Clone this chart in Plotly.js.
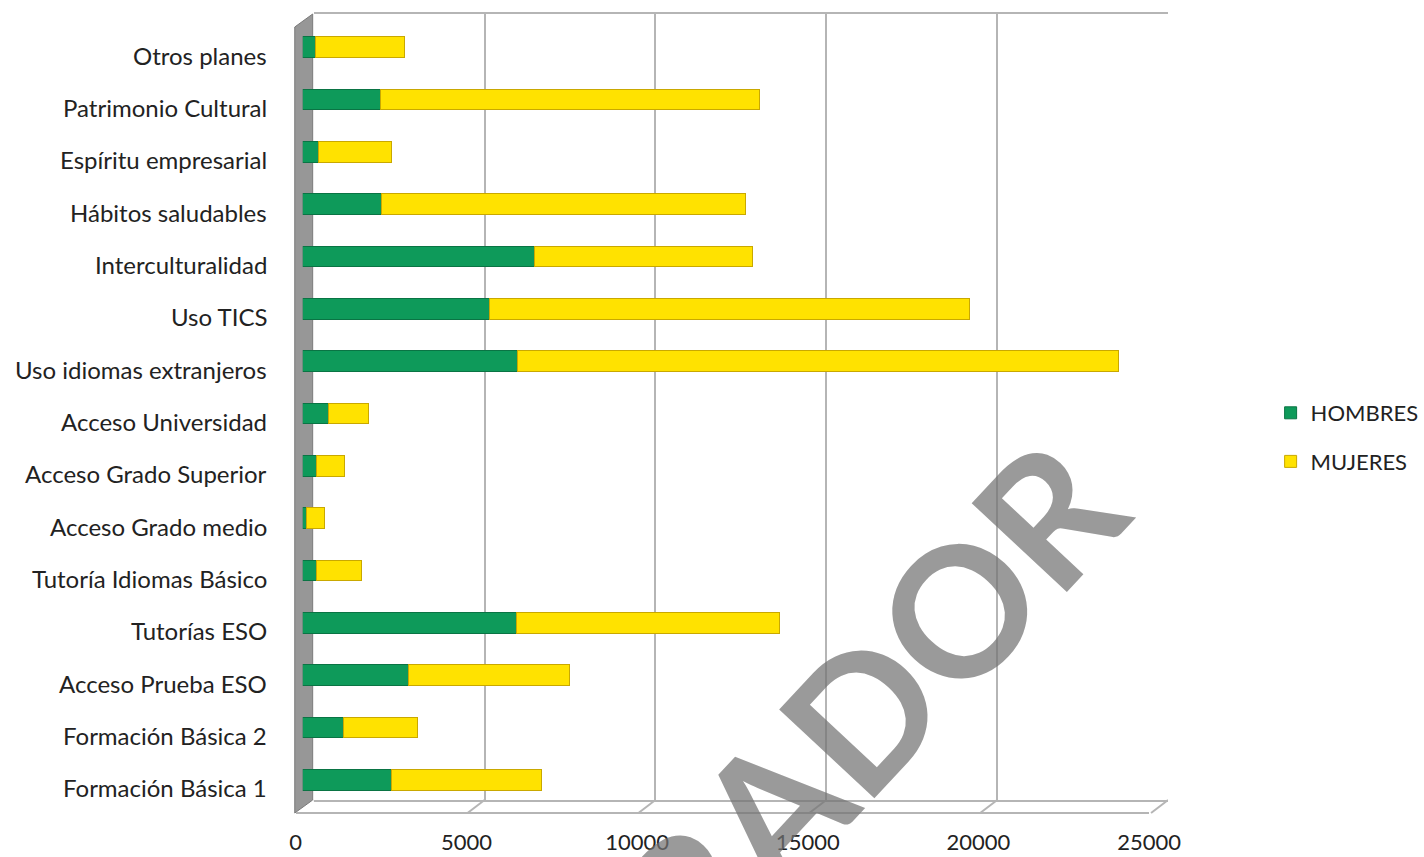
<!DOCTYPE html>
<html>
<head>
<meta charset="utf-8">
<script src="https://cdn.plot.ly/plotly-3.0.1.min.js"></script>
<style>html,body{margin:0;padding:0;background:#fff;}#chart{width:1424px;height:857px;}</style>
</head>
<body>
<div id="chart"></div>
<script>
// ---- data (top to bottom, as shown) ----
const categories = ["Otros planes","Patrimonio Cultural","Espíritu empresarial","Hábitos saludables","Interculturalidad","Uso TICS","Uso idiomas extranjeros","Acceso Universidad","Acceso Grado Superior","Acceso Grado medio","Tutoría Idiomas Básico","Tutorías ESO","Acceso Prueba ESO","Formación Básica 2","Formación Básica 1"];
const hombres = [370, 2270, 470, 2300, 6800, 5490, 6300, 760, 410, 120, 410, 6280, 3100, 1200, 2600];
const mujeres = [2630, 11130, 2130, 10700, 6420, 14100, 17640, 1170, 820, 520, 1310, 7710, 4720, 2160, 4400];
const xTicks = [0, 5000, 10000, 15000, 20000, 25000];
const seriesNames = ["HOMBRES", "MUJERES"];
const watermark = "BORRADOR";

const W = 1424, H = 857;
const px = v => v / W;
const py = v => 1 - v / H;
const FONT = "Lato, 'Open Sans', sans-serif";

const traces = [
  // back wall helper (base subplot, drawn first)
  {type:'scatter', mode:'markers', x:[0], y:[0.5], xaxis:'x', yaxis:'y', marker:{opacity:0}, showlegend:false, hoverinfo:'skip'},
  // bars
  {type:'bar', orientation:'h', name:seriesNames[0], y:categories, x:hombres, xaxis:'x2', yaxis:'y2',
   marker:{color:'#0e9a5a', line:{color:'#0a7444', width:1}}, legendgroup:'a', hoverinfo:'x+y'},
  {type:'bar', orientation:'h', name:seriesNames[1], y:categories, x:mujeres, xaxis:'x2', yaxis:'y2',
   marker:{color:'#ffe200', line:{color:'#c9a800', width:1}}, legendgroup:'b', hoverinfo:'x+y'},
  // front-edge axis helper
  {type:'scatter', mode:'markers', x:[0], y:[categories[0]], xaxis:'x3', yaxis:'y2', marker:{opacity:0}, showlegend:false, hoverinfo:'skip'}
];

const shapes = [];
// left wall
shapes.push({type:'path', xref:'paper', yref:'paper', layer:'below',
  path:`M ${px(296)} ${py(27)} L ${px(314)} ${py(14)} L ${px(314)} ${py(800)} L ${px(296)} ${py(813)} Z`,
  fillcolor:'#979797', line:{color:'#7a7a7a', width:1}});
// floor diagonals at each gridline
xTicks.forEach(t => {
  shapes.push({type:'line', xref:'x', yref:'paper', xsizemode:'pixel', ysizemode:'pixel',
    xanchor:t, yanchor:py(800), x0:0, x1:-17, y0:0, y1:-13, layer:'below',
    line:{color:'#b5b5b5', width:2}});
});

// category labels (sit slightly below the bars, as in the 3D original)
const annotations = categories.map(c => ({
  text:c, xref:'paper', yref:'y2', x:px(270), y:c, xanchor:'right', yanchor:'middle',
  yshift:-8, showarrow:false, font:{family:FONT, size:24, color:'#222'}
}));
annotations.push({text:watermark, xref:'paper', yref:'paper', x:px(741), y:py(842),
  xanchor:'center', yanchor:'middle', showarrow:false, textangle:-47,
  font:{family:FONT, size:180, weight:700, color:'rgba(115,115,115,0.72)'}});

const layout = {
  width:W, height:H,
  margin:{l:0, r:0, t:0, b:0},
  paper_bgcolor:'#ffffff', plot_bgcolor:'rgba(0,0,0,0)',
  barmode:'stack', bargap:0.6,
  showlegend:true,
  legend:{x:px(1276), y:py(392), xanchor:'left', yanchor:'top', traceorder:'grouped',
    tracegroupgap:17, font:{family:FONT, size:22, color:'#222'}, bgcolor:'rgba(0,0,0,0)'},
  font:{family:FONT, color:'#222'},
  // back wall grid
  xaxis:{domain:[px(315), px(1173)], range:[0, 25000], anchor:'y',
    tickvals:xTicks, showgrid:true, gridcolor:'#b5b5b5', gridwidth:2, zeroline:false,
    showticklabels:false, ticks:'', showline:true, linecolor:'#b5b5b5', linewidth:2, mirror:true, fixedrange:true},
  yaxis:{domain:[py(800), py(14)], range:[0,1], anchor:'x', visible:false, fixedrange:true},
  // bars
  xaxis2:{domain:[px(304), px(1159)], range:[0, 25000], anchor:'y2', showgrid:false, zeroline:false,
    showticklabels:false, showline:false, ticks:'', fixedrange:true},
  yaxis2:{domain:[py(806), py(21)], anchor:'x2', type:'category', categoryorder:'array', categoryarray:categories,
    range:[categories.length - 0.5, -0.5], showgrid:false, zeroline:false, showline:false,
    showticklabels:false, ticks:'', fixedrange:true},
  // front edge with tick labels
  xaxis3:{domain:[px(297), px(1154)], range:[0, 25000], anchor:'free', position:py(813),
    tickvals:xTicks, ticktext:xTicks.map(String), showgrid:false, zeroline:false,
    showline:true, linecolor:'#b5b5b5', linewidth:2,
    ticks:'outside', ticklen:10, tickcolor:'rgba(0,0,0,0)',
    tickfont:{family:FONT, size:22, color:'#222'}, fixedrange:true},
  shapes:shapes,
  annotations:annotations
};

Plotly.newPlot('chart', traces, layout, {displayModeBar:false, staticPlot:true});
</script>
</body>
</html>
